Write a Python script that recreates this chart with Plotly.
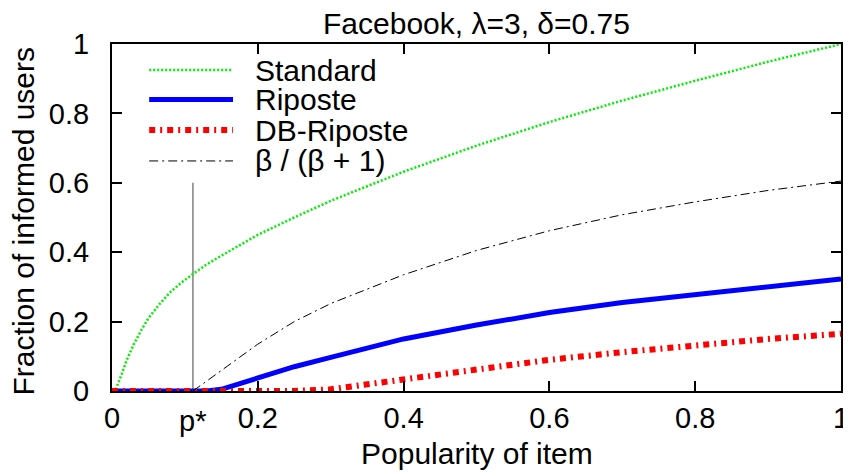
import plotly.graph_objects as go

# popularity of item (x) and fraction of informed users for each scheme
p_star = 0.111

x_std = [0, 0.005, 0.012, 0.02, 0.03, 0.04, 0.05, 0.065, 0.08, 0.095, 0.111, 0.13, 0.15, 0.175,
         0.2, 0.25, 0.3, 0.4, 0.5, 0.6, 0.7, 0.8, 0.9, 1.0]
y_std = [0, 0.004, 0.041, 0.088, 0.135, 0.175, 0.21, 0.25, 0.285, 0.312, 0.337, 0.365, 0.39, 0.42,
         0.45, 0.5, 0.548, 0.632, 0.707, 0.775, 0.837, 0.894, 0.949, 1.0]

x_rip = [0, 0.05, 0.111, 0.13, 0.15, 0.175, 0.2, 0.225, 0.25, 0.3, 0.35, 0.4, 0.5, 0.6, 0.7, 0.8, 0.9, 1.0]
y_rip = [0, 0, 0, 0, 0.005, 0.021, 0.039, 0.055, 0.07, 0.097, 0.125, 0.15, 0.19, 0.226, 0.255, 0.278, 0.3, 0.323]

x_db = [0, 0.05, 0.111, 0.2, 0.25, 0.3, 0.35, 0.4, 0.5, 0.6, 0.7, 0.8, 0.9, 1.0]
y_db = [0, 0, 0, 0, 0, 0.005, 0.019, 0.036, 0.063, 0.09, 0.112, 0.133, 0.15, 0.165]

x_beta = [0.111, 0.15, 0.2, 0.25, 0.3, 0.4, 0.5, 0.6, 0.7, 0.8, 0.9, 1.0]
y_beta = [0, 0.06, 0.135, 0.2, 0.252, 0.335, 0.405, 0.462, 0.508, 0.545, 0.578, 0.605]

x_pline = [p_star, p_star]
y_pline = [0, 0.6]

x_tickvals = [0, 0.2, 0.4, 0.6, 0.8, 1]
x_ticktext = ['0', '0.2', '0.4', '0.6', '0.8', '1']
y_tickvals = [0, 0.2, 0.4, 0.6, 0.8, 1]
y_ticktext = ['0', '0.2', '0.4', '0.6', '0.8', '1']

FONT = 'Liberation Sans, Arial, Helvetica, sans-serif'

styles = {
    'Standard': dict(color='#00ee00', width=2.5, dash='2px,2px'),
    'Riposte': dict(color='#0000ff', width=5),
    'DB-Riposte': dict(color='#ff0000', width=6, dash='6px,5px,2px,5px'),
    'β / (β + 1)': dict(color='#000000', width=1, dash='9px,4px,2px,4px'),
}

fig = go.Figure()

# vertical marker at p*
fig.add_trace(go.Scatter(x=x_pline, y=y_pline, mode='lines',
                         line=dict(color='#808080', width=1.5), showlegend=False))

series = [('Standard', x_std, y_std), ('Riposte', x_rip, y_rip),
          ('DB-Riposte', x_db, y_db), ('β / (β + 1)', x_beta, y_beta)]
for name, xs, ys in series:
    fig.add_trace(go.Scatter(x=xs, y=ys, mode='lines', name=name,
                             line=styles[name], showlegend=False))

# hand-made legend (long line samples like gnuplot)
leg_rows = [0.925, 0.840, 0.752, 0.663]
for (name, _, _), yy in zip(series, leg_rows):
    fig.add_shape(type='line', xref='paper', yref='paper',
                  x0=0.051, x1=0.166, y0=yy, y1=yy, line=styles[name])
    fig.add_annotation(xref='paper', yref='paper', x=0.193, y=yy, text=name,
                       showarrow=False, xanchor='left', yanchor='middle',
                       font=dict(size=30, color='black', family=FONT))

# p* tick label
fig.add_annotation(x=p_star, xref='x', yref='paper', y=-0.086, text='p*',
                   showarrow=False, yanchor='middle',
                   font=dict(size=29, color='black', family=FONT))

# axis titles
fig.add_annotation(xref='paper', yref='paper', x=0.5, y=-0.179,
                   text='Popularity of item', showarrow=False,
                   xanchor='center', yanchor='middle',
                   font=dict(size=30, color='black', family=FONT))
fig.add_annotation(xref='paper', yref='paper', x=-0.121, y=0.488,
                   text='Fraction of informed users', showarrow=False,
                   textangle=-90, xanchor='center', yanchor='middle',
                   font=dict(size=30, color='black', family=FONT))

# page body has an 8px margin, so the figure is 8px smaller each way
fig.update_layout(
    width=843, height=465,
    margin=dict(l=104, r=10, t=36, b=82),
    plot_bgcolor='white', paper_bgcolor='white',
    font=dict(family=FONT, size=29, color='black'),
    title=dict(text='Facebook, λ=3, δ=0.75', x=0.5, xref='paper',
               y=1 - 15 / 465, yref='container', yanchor='middle',
               xanchor='center', font=dict(size=30, color='black')),
    showlegend=False,
)
fig.update_xaxes(
    range=[0, 1], tickvals=x_tickvals, ticktext=x_ticktext,
    ticks='inside', ticklen=10, tickwidth=1.5, tickcolor='black',
    showline=True, linewidth=2, linecolor='black', mirror='ticks',
    showgrid=False, zeroline=False, automargin=False,
)
fig.update_yaxes(
    range=[0, 1], tickvals=y_tickvals, ticktext=y_ticktext,
    ticks='inside', ticklen=10, tickwidth=1.5, tickcolor='black',
    showline=True, linewidth=2, linecolor='black', mirror='ticks',
    showgrid=False, zeroline=False, automargin=False,
    ticklabelstandoff=15,
)

fig.write_html('out.html')
